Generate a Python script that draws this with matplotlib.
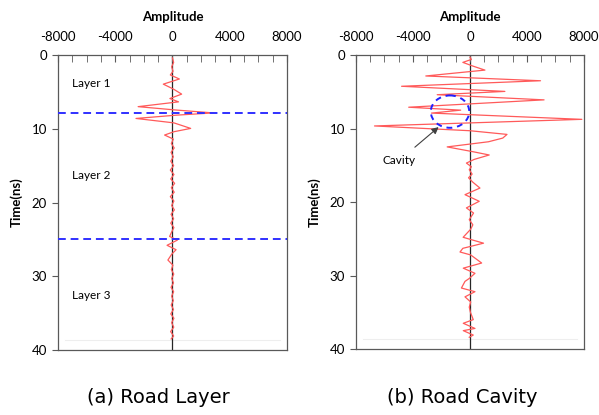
import numpy as np
import matplotlib.pyplot as plt
from matplotlib.patches import Ellipse
from matplotlib.ticker import MultipleLocator

plt.rcParams['font.family'] = ['Lato', 'DejaVu Sans']
plt.rcParams['axes.unicode_minus'] = False

# road layer trace (time in ns, amplitude)
layer_t = [0.4, 1.0, 1.6, 2.2, 2.7, 3.25, 3.95, 4.6, 5.3, 5.9, 6.35, 7.0, 7.45, 7.85, 8.15,
           8.6, 9.2, 9.95, 10.4, 10.85, 11.4, 12.0, 12.6, 13.2, 13.8, 14.4, 15.0, 15.6, 16.2,
           16.8, 17.4, 18.0, 18.6, 19.2, 19.8, 20.4, 21.0, 21.6, 22.2, 22.8, 23.4, 24.0, 24.6,
           25.1, 25.8, 26.4, 27.0, 27.8, 28.5, 29.1, 29.7, 30.3, 30.9, 31.5, 32.1, 32.7, 33.3,
           33.9, 34.5, 35.1, 35.7, 36.3, 36.9, 37.5, 38.1, 38.5]
layer_a = [0, 80, -60, 40, -150, 480, -640, 50, 640, -180, 420, -2400, 200, 2850, 300,
           -2550, 100, 1270, 100, -550, 60, -80, 120, -100, 60, -120, 80, -150, 100,
           -120, 150, -80, 120, -150, 100, -60, 130, -100, 80, -120, 100, -60, -200,
           340, -380, 250, -50, -320, 30, -80, 90, -60, 70, -100, 80, -60, 60,
           -90, 70, -120, 100, -60, 90, -130, 80, -90]

# road cavity trace
cavity_t = [0.3, 0.6, 1.0, 1.5, 2.05, 2.85, 3.5, 4.25, 4.95, 5.4, 6.1, 7.1, 7.5, 7.9, 8.75,
            9.65, 10.3, 10.8, 11.3, 11.8, 12.5, 13.15, 13.6, 14.2, 14.7, 15.2, 15.6, 16.2,
            16.7, 17.3, 18.1, 19.0, 19.9, 20.8, 21.5, 22.4, 23.1, 23.7, 24.8, 25.6, 26.3,
            26.8, 27.2, 28.3, 29.0, 29.7, 30.4, 30.8, 31.7, 32.2, 32.9, 33.6, 34.3, 35.0,
            36.0, 36.5, 37.2, 37.5, 38.1, 38.4]
cavity_a = [0, 100, -500, 200, 1050, -3100, 4950, -4800, 2450, -2300, 5200, -4300, -650, -2700, 7850,
            -6700, 0, 2600, 2300, 1300, -1600, 200, 1350, 300, -250, 100, -50, 150,
            -100, 200, 700, -350, 650, -250, 250, -50, 200, 50, -480, 950, -500,
            -700, 50, 820, -470, 350, -50, -350, -600, 350, -350, 50, -50, 30,
            230, -470, 350, -470, 230, -50]

layer_lines = [7.8, 25.0]
layer_names = ['Layer 1', 'Layer 2', 'Layer 3']
layer_name_t = [3.9, 16.4, 32.6]

fig = plt.figure(figsize=(5.99, 4.15), dpi=100)
ax1 = fig.add_axes([0.0968, 0.1566, 0.3823, 0.7108])
ax2 = fig.add_axes([0.5943, 0.1590, 0.3806, 0.7084])


def style(ax):
    ax.set_xlim(-8000, 8000)
    ax.set_ylim(40, 0)
    ax.xaxis.set_major_locator(MultipleLocator(4000))
    ax.xaxis.set_minor_locator(MultipleLocator(1000))
    ax.yaxis.set_major_locator(MultipleLocator(10))
    ax.xaxis.tick_top()
    ax.xaxis.set_label_position('top')
    ax.tick_params(axis='x', which='both', direction='in', colors='#595959',
                   labelcolor='black', labelsize=9.5, pad=9)
    ax.tick_params(axis='x', which='major', length=5)
    ax.tick_params(axis='x', which='minor', length=5)
    ax.tick_params(axis='y', direction='out', length=4, colors='#595959',
                   labelcolor='black', labelsize=9.5, pad=4)
    for s in ax.spines.values():
        s.set_color('#595959')
        s.set_linewidth(0.9)
    ax.set_xlabel('Amplitude', fontsize=9.5, fontweight='bold', labelpad=7)
    ax.set_ylabel('Time(ns)', fontsize=9.5, fontweight='bold', labelpad=6)
    ax.axvline(0, color='#262626', lw=0.9, zorder=1)
    ax.axhline(38.6, xmin=0.03, xmax=0.97, color='#eeeeee', lw=0.8, zorder=0)


style(ax1)
ax1.plot(layer_a, layer_t, color='#ff5a5a', lw=0.9, zorder=2)
for y in layer_lines:
    ax1.axhline(y, color='#3030ff', lw=1.4, ls=(0, (4, 2.5)), zorder=3)
for name, t in zip(layer_names, layer_name_t):
    ax1.text(-7000, t, name, fontsize=8.5, va='center', ha='left')

style(ax2)
ax2.plot(cavity_a, cavity_t, color='#ff5a5a', lw=0.9, zorder=2)
ax2.add_patch(Ellipse((-1400, 7.7), 2700, 4.4, fill=False, edgecolor='#2020ff',
                      lw=1.4, ls=(0, (3, 2.5)), zorder=3))
ax2.annotate('Cavity', xy=(-2200, 9.8), xytext=(-5000, 14.4), fontsize=8.5,
             ha='center', va='center',
             arrowprops=dict(arrowstyle='-|>', color='#404040', lw=0.8,
                             mutation_scale=10, shrinkA=6, shrinkB=0))

fig.text(0.264, 0.043, '(a) Road Layer', fontsize=14, ha='center', va='center',
         family='DejaVu Sans')
fig.text(0.771, 0.043, '(b) Road Cavity', fontsize=14, ha='center', va='center',
         family='DejaVu Sans')

fig.savefig('out.png', dpi=100)
